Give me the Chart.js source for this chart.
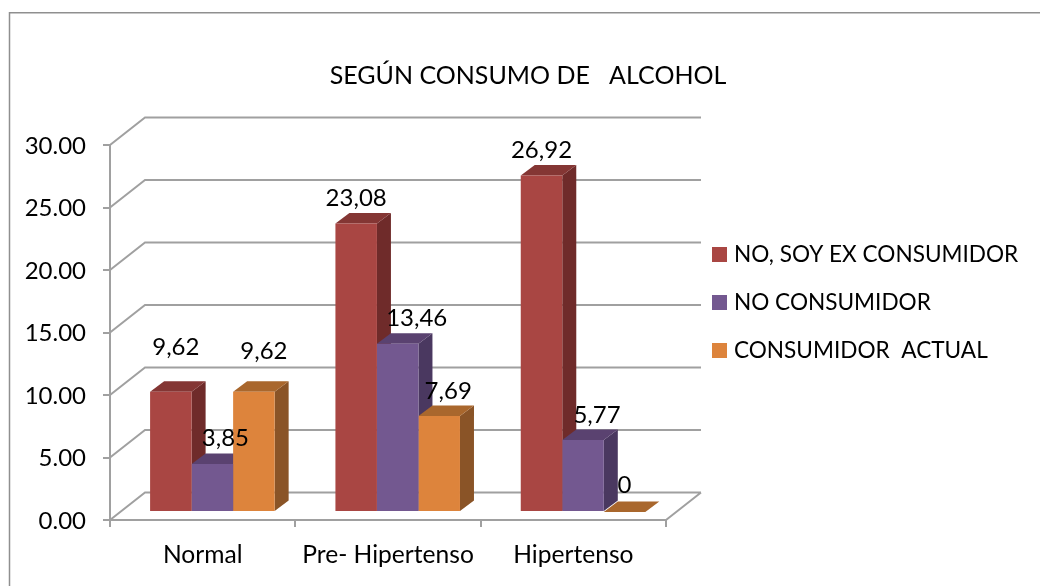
<!DOCTYPE html>
<html><head><meta charset="utf-8">
<style>html,body{margin:0;padding:0;background:#fff}#w{width:1040px;height:586px}</style>
<script src="https://cdn.jsdelivr.net/npm/chart.js@4"></script></head>
<body><div id="w"><canvas id="c" width="1040" height="586"></canvas></div>
<script>
const categories = ["Normal", "Pre- Hipertenso", "Hipertenso"];
const seriesNames = ["NO, SOY EX CONSUMIDOR", "NO CONSUMIDOR", "CONSUMIDOR  ACTUAL"];
const exConsumidor = [9.62, 23.08, 26.92];
const noConsumidor = [3.85, 13.46, 5.77];
const consumidorActual = [9.62, 7.69, 0];
const titleText = "SEGÚN CONSUMO DE   ALCOHOL";

const FONT = "Lato";
const INK = "#000";
const GRID = "#a0a0a0";
const faces = [
  {front:"#a94643", side:"#6f2b2a", top:"#843634"},
  {front:"#735890", side:"#4a3860", top:"#5a4270"},
  {front:"#dd843c", side:"#8a5427", top:"#a9672d"}
];
const WALL = {dx:35, dy:27.5};
const BAR_SHIFT = {dx:9.7, dy:8};
const BAR_DEPTH = {dx:14, dy:10.5};
const labelNudge = [
  [[5,-44],[0,-25],[0,-25]],
  [[13,-26],[19,-25],[14,-25]],
  [[10,-40],[9,-25],[0,-27]]
];

const fmt = v => v === 0 ? "0" : v.toFixed(2).replace(".", ",");

function swatch(color){
  const s = document.createElement("canvas");
  s.width = 15; s.height = 15;
  const g = s.getContext("2d");
  g.fillStyle = color; g.fillRect(0,0,15,15);
  return s;
}

const scene = {
  id:"scene",
  afterLayout(chart){
    const t = chart.titleBlock, l = chart.legend;
    if (t){ t.left = 268; t.right = 788; }
    if (l){
      const w = l.right - l.left, h = l.bottom - l.top;
      l.left = 690.9; l.right = 690.9 + w; l.top = 217.7; l.bottom = 217.7 + h;
    }
  },
  beforeDraw(chart){
    const c = chart.ctx;
    c.save();
    c.strokeStyle = "#8f8f8f"; c.lineWidth = 1.5;
    c.beginPath(); c.moveTo(9.5,586); c.lineTo(9.5,12.75); c.lineTo(1040,12.75); c.stroke();
    c.restore();
  },
  beforeDatasetsDraw(chart){
    const c = chart.ctx, a = chart.chartArea, y = chart.scales.y;
    c.save();
    c.strokeStyle = GRID; c.lineWidth = 2;
    c.beginPath();
    y.ticks.forEach(t => {
      const p = y.getPixelForValue(t.value);
      c.moveTo(a.left, p);
      c.lineTo(a.left + WALL.dx, p - WALL.dy);
      c.lineTo(a.right + WALL.dx, p - WALL.dy);
    });
    c.moveTo(a.right, a.bottom);
    c.lineTo(a.right + WALL.dx, a.bottom - WALL.dy);
    c.stroke();
    c.translate(BAR_SHIFT.dx, -BAR_SHIFT.dy);
    chart.data.datasets.forEach((d, i) => {
      chart.getDatasetMeta(i).data.forEach(b => {
        const L = b.x - b.width/2, R = b.x + b.width/2, T = b.y, B = b.base;
        const dx = BAR_DEPTH.dx, dy = BAR_DEPTH.dy;
        c.fillStyle = faces[i].side;
        c.beginPath(); c.moveTo(R,T); c.lineTo(R+dx,T-dy); c.lineTo(R+dx,B-dy); c.lineTo(R,B); c.closePath(); c.fill();
        c.fillStyle = faces[i].top;
        c.beginPath(); c.moveTo(L,T); c.lineTo(L+dx,T-dy); c.lineTo(R+dx,T-dy); c.lineTo(R,T); c.closePath(); c.fill();
      });
    });
  },
  afterDatasetsDraw(chart){
    const c = chart.ctx;
    c.font = "24px " + FONT;
    c.fillStyle = INK;
    c.textAlign = "center";
    c.textBaseline = "middle";
    chart.data.datasets.forEach((d, i) => {
      chart.getDatasetMeta(i).data.forEach((b, j) => {
        const n = labelNudge[i][j];
        c.fillText(fmt(d.data[j]), b.x + n[0], b.y + n[1]);
      });
    });
    c.restore();
  }
};

new Chart(document.getElementById("c"), {
  type:"bar",
  data:{
    labels:categories,
    datasets:[exConsumidor, noConsumidor, consumidorActual].map((v,i)=>({
      label:seriesNames[i], data:v, backgroundColor:faces[i].front, borderWidth:0,
      categoryPercentage:0.672, barPercentage:1, clip:false
    }))
  },
  options:{
    responsive:false, animation:false,
    layout:{padding:{left:0, right:374, top:0, bottom:0}},
    font:{family:FONT},
    plugins:{
      title:{display:true, text:titleText, color:INK, font:{family:FONT, size:25, weight:"normal"}, padding:{top:61, bottom:54}},
      legend:{position:"chartArea", align:"start",
        labels:{usePointStyle:true, pointStyleWidth:6.4, boxHeight:15, padding:25.4, color:INK, font:{family:FONT, size:22.6},
          generateLabels(chart){
            return Chart.defaults.plugins.legend.labels.generateLabels(chart).map((it,i)=>{
              it.pointStyle = swatch(faces[i].front);
              return it;
            });
          }}},
      tooltip:{enabled:false}
    },
    scales:{
      x:{grid:{drawOnChartArea:false, drawTicks:true, tickLength:7, color:GRID, lineWidth:2},
         border:{color:GRID, width:2},
         ticks:{color:INK, font:{family:FONT, size:24.6}, padding:13, maxRotation:0},
         afterFit:s=>{s.height=66;}},
      y:{min:0, max:30, grid:{drawOnChartArea:false, drawTicks:true, tickLength:7, color:GRID, lineWidth:2},
         border:{color:GRID, width:2},
         ticks:{stepSize:5, color:INK, font:{family:FONT, size:24}, padding:17, labelOffset:1, callback:v=>Number(v).toFixed(2)},
         afterFit:s=>{s.width=110;}}
    }
  },
  plugins:[scene]
});
</script></body></html>
